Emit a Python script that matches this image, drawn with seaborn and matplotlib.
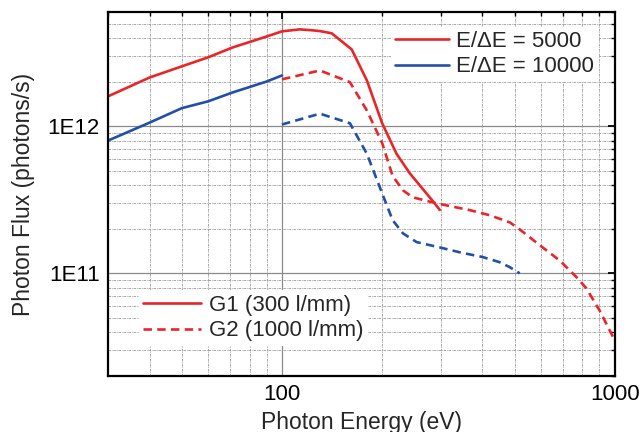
import numpy as np
import pandas as pd
import seaborn as sns
import matplotlib
matplotlib.use('Agg')
import matplotlib.pyplot as plt
from matplotlib.lines import Line2D
from matplotlib.ticker import LogLocator, FuncFormatter, NullFormatter

# G1 (300 l/mm), E/dE = 5000
g1_5000_energy = [30, 40, 50, 60, 71, 90, 100, 113, 124, 130, 141, 162, 180, 200, 221, 242, 284, 298]
g1_5000_flux = [1.6e12, 2.15e12, 2.56e12, 2.95e12, 3.44e12, 4.09e12, 4.43e12, 4.57e12, 4.5e12,
                4.45e12, 4.3e12, 3.34e12, 2.05e12, 1.05e12, 6.5e11, 4.8e11, 3.1e11, 2.7e11]

# G1 (300 l/mm), E/dE = 10000
g1_10000_energy = [30, 40, 50, 60, 71, 90, 100]
g1_10000_flux = [8.0e11, 1.06e12, 1.33e12, 1.48e12, 1.70e12, 2.02e12, 2.22e12]

# G2 (1000 l/mm), E/dE = 5000
g2_5000_energy = [100, 130, 160, 180, 200, 215, 231, 247, 292, 367, 422, 484, 518, 596,
                  684, 768, 822, 900, 1000]
g2_5000_flux = [2.09e12, 2.4e12, 2.0e12, 1.28e12, 7.7e11, 4.6e11, 3.67e11, 3.29e11, 2.99e11,
                2.69e11, 2.48e11, 2.22e11, 1.99e11, 1.55e11, 1.22e11, 9.4e10, 7.9e10, 5.6e10, 3.5e10]

# G2 (1000 l/mm), E/dE = 10000
g2_10000_energy = [100, 130, 160, 180, 200, 215, 231, 254, 298, 342, 401, 451, 484, 518]
g2_10000_flux = [1.03e12, 1.22e12, 1.05e12, 6.5e11, 3.5e11, 2.3e11, 1.87e11, 1.63e11, 1.5e11,
                 1.39e11, 1.29e11, 1.19e11, 1.1e11, 1.0e11]

resolutions = ['E/\u0394E = 5000', 'E/\u0394E = 10000']
gratings = ['G1 (300 l/mm)', 'G2 (1000 l/mm)']

frames = []
for e, f, res, gr in [(g1_5000_energy, g1_5000_flux, resolutions[0], gratings[0]),
                      (g1_10000_energy, g1_10000_flux, resolutions[1], gratings[0]),
                      (g2_5000_energy, g2_5000_flux, resolutions[0], gratings[1]),
                      (g2_10000_energy, g2_10000_flux, resolutions[1], gratings[1])]:
    frames.append(pd.DataFrame({'energy': e, 'flux': f, 'res': res, 'grating': gr}))
df = pd.concat(frames, ignore_index=True)

red = '#e8262a'
blue = '#2250a8'
palette = {resolutions[0]: red, resolutions[1]: blue}
dashes = {gratings[0]: '', gratings[1]: (3.2, 2.0)}
fs = 16

sns.set_style('white')
plt.rcParams['font.family'] = ['Liberation Sans', 'DejaVu Sans']

fig = plt.figure(figsize=(6.41, 4.32), dpi=100)
ax = fig.add_axes([0.1685, 0.1296, 0.7905, 0.8426])

sns.lineplot(data=df, x='energy', y='flux', hue='res', style='grating',
             palette=palette, dashes=dashes, units='grating', estimator=None,
             sort=False, linewidth=1.9, legend=False, ax=ax)

ax.set_xscale('log')
ax.set_yscale('log')
ax.set_xlim(30, 1000)
ax.set_ylim(2e10, 6e12)

ax.xaxis.set_major_locator(LogLocator(base=10))
ax.xaxis.set_minor_locator(LogLocator(base=10, subs=np.arange(2, 10)))
ax.yaxis.set_major_locator(LogLocator(base=10))
ax.yaxis.set_minor_locator(LogLocator(base=10, subs=np.arange(2, 10)))
ax.xaxis.set_major_formatter(FuncFormatter(lambda v, p: f'{v:g}'))
ax.xaxis.set_minor_formatter(NullFormatter())
ax.yaxis.set_major_formatter(FuncFormatter(lambda v, p: f'1E{int(round(np.log10(v)))}'))
ax.yaxis.set_minor_formatter(NullFormatter())

ax.grid(which='major', color='#8a8a8a', linewidth=0.9, linestyle='-')
ax.grid(which='minor', color='#9a9a9a', linewidth=0.6, linestyle=(0, (3, 1, 1, 1)))
ax.set_axisbelow(True)

ax.tick_params(which='both', direction='in', top=True, right=True, colors='black',
               labelsize=fs, pad=6)
ax.tick_params(which='major', length=5, width=1.3)
ax.tick_params(which='minor', length=3, width=1.0)
for s in ax.spines.values():
    s.set_linewidth(1.6)
    s.set_color('black')

ax.set_xlabel('Photon Energy (eV)', fontsize=16.5, labelpad=4)
ax.set_ylabel('Photon Flux (photons/s)', fontsize=16.5, labelpad=9)

h1 = [Line2D([], [], color=red, lw=1.9), Line2D([], [], color=blue, lw=1.9)]
leg1 = ax.legend(h1, resolutions, loc='upper left', bbox_to_anchor=(0.558, 0.96),
                 borderaxespad=0, borderpad=0.2, fontsize=fs, frameon=True,
                 framealpha=1, edgecolor='none', fancybox=False,
                 handlelength=2.4, handletextpad=0.35, labelspacing=0.2)
ax.add_artist(leg1)

h2 = [Line2D([], [], color=red, lw=1.9),
      Line2D([], [], color=red, lw=1.9, dashes=(3.2, 2.0))]
ax.legend(h2, gratings, loc='upper left', bbox_to_anchor=(0.061, 0.235),
          borderaxespad=0, borderpad=0.2, fontsize=fs, frameon=True,
          framealpha=1, edgecolor='none', fancybox=False,
          handlelength=2.6, handletextpad=0.35, labelspacing=0.2)

fig.savefig('out.png', dpi=100)
